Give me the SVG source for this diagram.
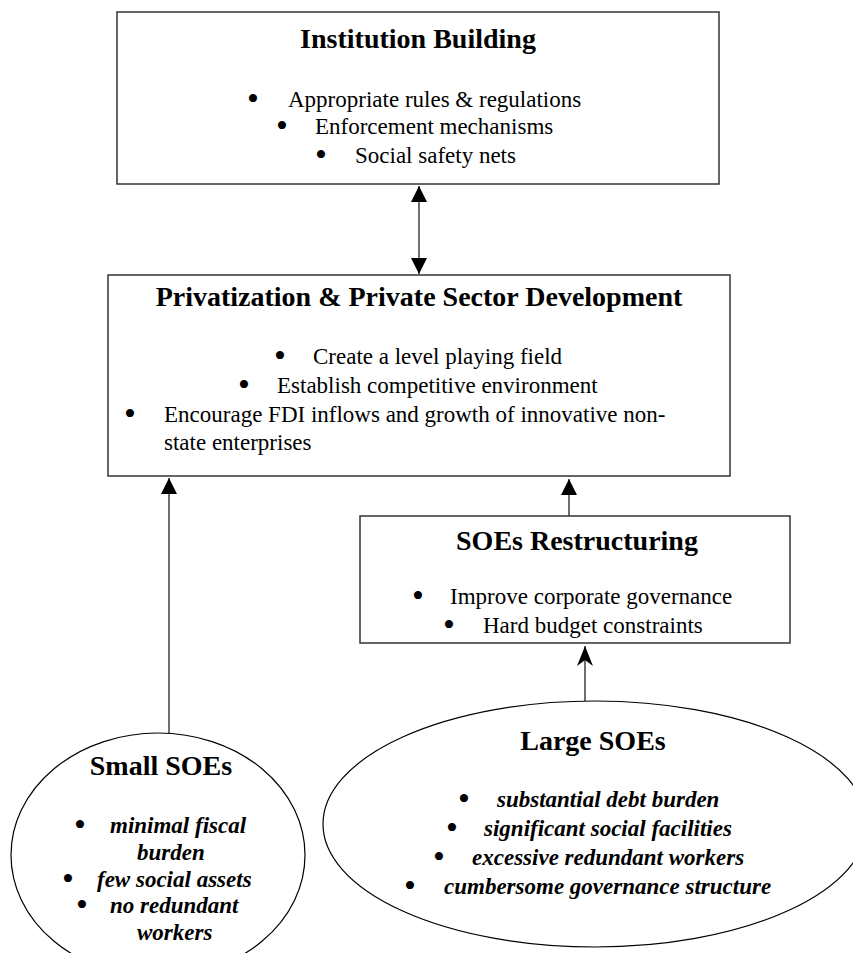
<svg xmlns="http://www.w3.org/2000/svg" width="853" height="953" viewBox="0 0 853 953">
<style>
.box{fill:#fff;stroke:#333;stroke-width:1.5}
.ell{fill:#fff;stroke:#000;stroke-width:1.2}
.t{font-family:"Liberation Serif","Times New Roman",serif;font-size:28px;font-weight:bold;fill:#000;text-anchor:middle}
.b{font-family:"Liberation Serif","Times New Roman",serif;font-size:23px;fill:#000}
.bi{font-family:"Liberation Serif","Times New Roman",serif;font-size:23px;font-weight:bold;font-style:italic;fill:#000}
.dot{font-family:"Liberation Serif","Times New Roman",serif;font-size:34px;fill:#000;text-anchor:middle}
.con{fill:none;stroke:#222;stroke-width:1.3}
</style>
<defs>
<marker id="tri" viewBox="0 0 16 16" refX="16" refY="8" markerWidth="16" markerHeight="16" markerUnits="userSpaceOnUse" orient="auto-start-reverse">
<path d="M0,0 L16,8 L0,16 Z" fill="#000"/>
</marker>
<marker id="stealth" viewBox="0 0 20 16" refX="20" refY="8" markerWidth="20" markerHeight="16" markerUnits="userSpaceOnUse" orient="auto">
<path d="M0,0 L20,8 L0,16 L6,8 Z" fill="#000"/>
</marker>
</defs>

<g id="connectors">
<path class="con" d="M419,186 L419,274" marker-start="url(#tri)" marker-end="url(#tri)"/>
<path class="con" d="M169,733 L169,478" marker-end="url(#tri)"/>
<path class="con" d="M569,516 L569,479" marker-end="url(#tri)"/>
<path class="con" d="M585,701 L585,646" marker-end="url(#stealth)"/>
</g>

<g id="institution-building">
<rect class="box" x="117" y="12" width="602" height="172"/>
<text class="t" x="418" y="48">Institution Building</text>
<text class="dot" x="253" y="110">•</text>
<text class="b" x="288" y="107">Appropriate rules &amp; regulations</text>
<text class="dot" x="282" y="137">•</text>
<text class="b" x="315" y="134">Enforcement mechanisms</text>
<text class="dot" x="321" y="166">•</text>
<text class="b" x="355" y="163">Social safety nets</text>
</g>

<g id="privatization">
<rect class="box" x="108" y="275" width="622" height="201"/>
<text class="t" x="419" y="306">Privatization &amp; Private Sector Development</text>
<text class="dot" x="280" y="367">•</text>
<text class="b" x="313" y="364">Create a level playing field</text>
<text class="dot" x="244" y="396">•</text>
<text class="b" x="277" y="393">Establish competitive environment</text>
<text class="dot" x="130" y="425">•</text>
<text class="b" x="164" y="422">Encourage FDI inflows and growth of innovative non-</text>
<text class="b" x="164" y="450">state enterprises</text>
</g>

<g id="soes-restructuring">
<rect class="box" x="360" y="516" width="430" height="127"/>
<text class="t" x="577" y="550">SOEs Restructuring</text>
<text class="dot" x="418" y="607">•</text>
<text class="b" x="450" y="604">Improve corporate governance</text>
<text class="dot" x="449" y="636">•</text>
<text class="b" x="483" y="633">Hard budget constraints</text>
</g>

<g id="small-soes">
<ellipse class="ell" cx="158" cy="855" rx="147" ry="122"/>
<text class="t" x="161" y="775">Small SOEs</text>
<text class="dot" x="80" y="836">•</text>
<text class="bi" x="110" y="833">minimal fiscal</text>
<text class="bi" x="137" y="860">burden</text>
<text class="dot" x="68" y="890">•</text>
<text class="bi" x="97" y="887">few social assets</text>
<text class="dot" x="82" y="916">•</text>
<text class="bi" x="110" y="913">no redundant</text>
<text class="bi" x="137" y="940">workers</text>
</g>

<g id="large-soes">
<ellipse class="ell" cx="595" cy="824" rx="272" ry="123"/>
<text class="t" x="593" y="750">Large SOEs</text>
<text class="dot" x="464" y="810">•</text>
<text class="bi" x="497" y="807">substantial debt burden</text>
<text class="dot" x="452" y="839">•</text>
<text class="bi" x="484" y="836">significant social facilities</text>
<text class="dot" x="439" y="868">•</text>
<text class="bi" x="472" y="865">excessive redundant workers</text>
<text class="dot" x="410" y="897">•</text>
<text class="bi" x="444" y="894">cumbersome governance structure</text>
</g>
</svg>
